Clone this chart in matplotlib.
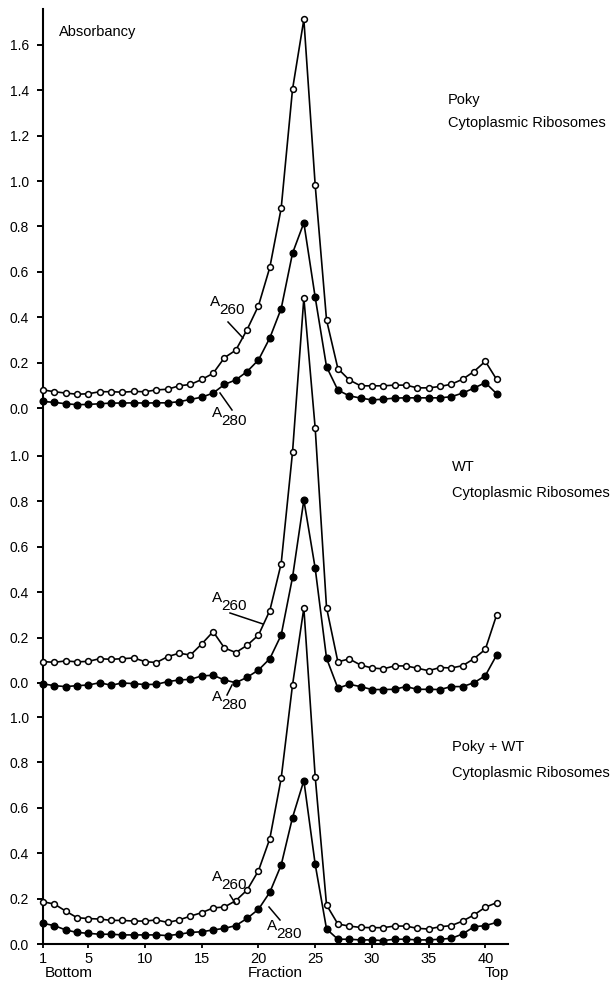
import matplotlib
matplotlib.use("Agg")
import matplotlib.pyplot as plt
from matplotlib.lines import Line2D

plt.rcParams['font.family'] = ['Liberation Sans', 'DejaVu Sans']

fractions = list(range(1, 42))

# Poky cytoplasmic ribosomes
poky_a260 = [0.080, 0.072, 0.066, 0.061, 0.063, 0.072, 0.072, 0.070, 0.073, 0.072,
             0.080, 0.083, 0.098, 0.104, 0.126, 0.153, 0.222, 0.255, 0.346, 0.451,
             0.620, 0.880, 1.404, 1.712, 0.982, 0.388, 0.174, 0.124, 0.098, 0.098,
             0.098, 0.101, 0.101, 0.089, 0.089, 0.095, 0.105, 0.127, 0.161, 0.206,
             0.126]
poky_a280 = [0.029, 0.025, 0.019, 0.015, 0.016, 0.019, 0.022, 0.022, 0.023, 0.022,
             0.023, 0.023, 0.028, 0.038, 0.048, 0.066, 0.104, 0.124, 0.161, 0.212,
             0.309, 0.438, 0.682, 0.816, 0.488, 0.182, 0.079, 0.054, 0.044, 0.036,
             0.039, 0.044, 0.045, 0.045, 0.045, 0.045, 0.050, 0.066, 0.088, 0.112,
             0.063]

# WT cytoplasmic ribosomes
wt_a260 = [0.094, 0.091, 0.097, 0.093, 0.095, 0.107, 0.104, 0.107, 0.110, 0.094,
           0.090, 0.116, 0.131, 0.123, 0.172, 0.226, 0.154, 0.134, 0.166, 0.211,
           0.319, 0.526, 1.016, 1.696, 1.122, 0.332, 0.093, 0.106, 0.079, 0.066,
           0.062, 0.075, 0.075, 0.065, 0.054, 0.068, 0.066, 0.076, 0.107, 0.148,
           0.300]
wt_a280 = [-0.004, -0.012, -0.016, -0.012, -0.009, 0.001, -0.010, 0.000, -0.003, -0.007,
           -0.006, 0.006, 0.013, 0.016, 0.031, 0.034, 0.013, 0.001, 0.025, 0.057,
           0.107, 0.211, 0.465, 0.806, 0.505, 0.109, -0.023, -0.006, -0.016, -0.029,
           -0.029, -0.028, -0.016, -0.028, -0.028, -0.029, -0.016, -0.016, 0.001, 0.032,
           0.123]

# Poky + WT cytoplasmic ribosomes
mix_a260 = [0.186, 0.176, 0.145, 0.116, 0.112, 0.110, 0.104, 0.104, 0.101, 0.101,
            0.106, 0.095, 0.106, 0.123, 0.138, 0.159, 0.163, 0.191, 0.238, 0.323,
            0.464, 0.730, 1.141, 1.480, 0.737, 0.172, 0.088, 0.079, 0.073, 0.072,
            0.072, 0.079, 0.079, 0.069, 0.066, 0.076, 0.081, 0.101, 0.128, 0.162,
            0.182]
mix_a280 = [0.091, 0.081, 0.062, 0.051, 0.047, 0.043, 0.043, 0.040, 0.040, 0.040,
            0.040, 0.037, 0.043, 0.051, 0.054, 0.062, 0.069, 0.081, 0.113, 0.153,
            0.228, 0.348, 0.557, 0.720, 0.351, 0.066, 0.021, 0.021, 0.018, 0.018,
            0.015, 0.021, 0.021, 0.018, 0.018, 0.021, 0.025, 0.044, 0.076, 0.081,
            0.095]

panel_titles = [("Poky", "Cytoplasmic Ribosomes"),
                ("WT", "Cytoplasmic Ribosomes"),
                ("Poky + WT", "Cytoplasmic Ribosomes")]
panel_ticks = [[0.0, 0.2, 0.4, 0.6, 0.8, 1.0, 1.2, 1.4, 1.6],
               [0.0, 0.2, 0.4, 0.6, 0.8, 1.0],
               [0.0, 0.2, 0.4, 0.6, 0.8, 1.0]]
x_ticks = [1, 5, 10, 15, 20, 25, 30, 35, 40]

# vertical offsets of the stacked panels (same absorbance scale)
offsets = [2.361, 1.150, 0.0]

W, H = 613, 983
fig = plt.figure(figsize=(W / 100, H / 100), dpi=100)
ax = fig.add_axes([43 / W, 39 / H, 465 / W, 935 / H])
ax.set_xlim(1, 42.0)
ax.set_ylim(0, 4.119)

series = [(poky_a260, poky_a280), (wt_a260, wt_a280), (mix_a260, mix_a280)]
for (a260, a280), off in zip(series, offsets):
    ax.plot(fractions, [v + off for v in a280], color='black', lw=1.2,
            marker='o', ms=4.8, mfc='black', mec='black', clip_on=False, zorder=3)
    ax.plot(fractions, [v + off for v in a260], color='black', lw=1.2,
            marker='o', ms=4.2, mfc='white', mec='black', mew=1.1, clip_on=False, zorder=4)

yt, yl = [], []
for ticks, off in zip(panel_ticks, offsets):
    for t in ticks:
        yt.append(t + off)
        yl.append(f"{t:.1f}")
ax.set_yticks(yt)
ax.set_yticklabels(yl)
ax.set_xticks(x_ticks)
ax.set_xticklabels([str(t) for t in x_ticks])

for s in ['top', 'right']:
    ax.spines[s].set_visible(False)
ax.spines['left'].set_linewidth(1.5)
ax.spines['bottom'].set_linewidth(1.5)
ax.tick_params(axis='y', direction='out', length=4, width=1.4, pad=6, labelsize=10)
ax.tick_params(axis='x', direction='out', length=3, width=1.3, pad=3, labelsize=10.5)


def fp(x, y):
    return x / W, 1 - y / H


fs = 10.5
fig.text(*fp(59, 32), "Absorbancy", fontsize=fs, ha='left', va='center')

title_pos = [((448, 100), (448, 123)), ((452, 467), (452, 493)), ((452, 747), (452, 773))]
for (t1, t2), (p1, p2) in zip(panel_titles, title_pos):
    fig.text(*fp(*p1), t1, fontsize=fs, ha='left', va='center')
    fig.text(*fp(*p2), t2, fontsize=fs, ha='left', va='center')

fig.text(*fp(45, 973), "Bottom", fontsize=11, ha='left', va='center')
fig.text(*fp(275, 973), "Fraction", fontsize=11, ha='center', va='center')
fig.text(*fp(497, 973), "Top", fontsize=11, ha='center', va='center')

# A260 / A280 labels: (A centre, leader start, leader end)
labels = [("260", (215, 302), (228, 322), (243, 338)),
          ("280", (217, 413), (220, 393), (232, 410)),
          ("260", (217, 598), (230, 613), (263, 624)),
          ("280", (217, 697), (232, 685), (227, 695)),
          ("260", (217, 877), (230, 895), (235, 903)),
          ("280", (272, 926), (269, 907), (280, 920))]
for sub, (ax_, ay_), l0, l1 in labels:
    fig.text(*fp(ax_, ay_), "A", fontsize=11, ha='center', va='center')
    fig.text(*fp(ax_ + 17, ay_ + 8), sub, fontsize=11, ha='center', va='center')
    x0, y0 = fp(*l0)
    x1, y1 = fp(*l1)
    fig.add_artist(Line2D([x0, x1], [y0, y1], transform=fig.transFigure,
                          color='black', lw=1.1))

fig.savefig("out.png", dpi=100)
